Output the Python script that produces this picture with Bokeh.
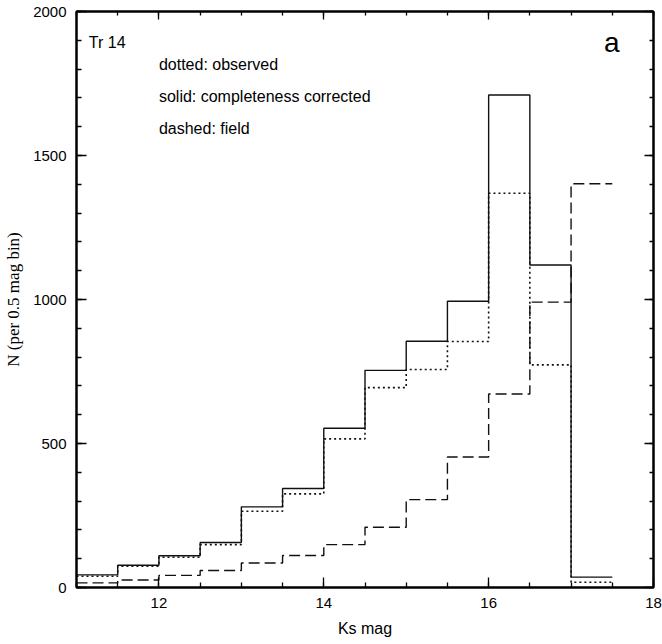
from bokeh.plotting import figure
from bokeh.models import FixedTicker, LinearAxis, Range1d, Label
from bokeh.embed import file_html
from bokeh.resources import INLINE

# Ks magnitude bins (left edges), 0.5 mag wide
bin_left = [11.0, 11.5, 12.0, 12.5, 13.0, 13.5, 14.0, 14.5, 15.0, 15.5, 16.0, 16.5, 17.0]
bin_width = 0.5

# star counts per bin
observed = [39, 74, 105, 149, 265, 325, 516, 694, 757, 854, 1369, 773, 18]
corrected = [44, 77, 110, 156, 280, 344, 553, 754, 855, 994, 1710, 1120, 36]
field = [16, 26, 42, 59, 85, 111, 149, 209, 305, 453, 672, 991, 1402]

x_major = [12, 14, 16, 18]
y_major = [0, 500, 1000, 1500, 2000]

FONT = "Liberation Sans"
SERIF = "Liberation Serif"

p = figure(width=662, height=644, output_backend="svg", toolbar_location=None,
           x_range=Range1d(11, 18), y_range=Range1d(0, 2000),
           min_border_left=76, min_border_right=9, min_border_top=11, min_border_bottom=57,
           x_axis_label="Ks mag", y_axis_label="N (per 0.5 mag bin)")
p.background_fill_color = "white"
p.border_fill_color = "white"
p.outline_line_color = "black"
p.outline_line_width = 2
p.xgrid.visible = False
p.ygrid.visible = False

x_ticker = FixedTicker(ticks=x_major, minor_ticks=[11 + 0.5 * i for i in range(15)])
y_ticker = FixedTicker(ticks=y_major, minor_ticks=list(range(0, 2001, 100)))


def style_axis(ax, ticker, show_labels):
    ax.ticker = ticker
    ax.axis_line_color = "black"
    ax.axis_line_width = 2
    ax.major_tick_in = 10
    ax.major_tick_out = 0
    ax.minor_tick_in = 5
    ax.minor_tick_out = 0
    ax.major_tick_line_color = "black"
    ax.minor_tick_line_color = "black"
    ax.major_tick_line_width = 1.3
    ax.minor_tick_line_width = 1.3
    if show_labels:
        ax.major_label_text_font = FONT
        ax.major_label_text_font_size = "15px"
        ax.major_label_text_color = "black"
    else:
        ax.major_label_text_font_size = "0px"
        ax.major_label_standoff = 0


style_axis(p.xaxis[0], x_ticker, True)
style_axis(p.yaxis[0], y_ticker, True)
p.xaxis[0].major_label_standoff = 10
p.yaxis[0].major_label_standoff = 10
p.xaxis[0].axis_label_text_font = FONT
p.xaxis[0].axis_label_text_font_size = "16px"
p.xaxis[0].axis_label_text_font_style = "normal"
p.xaxis[0].axis_label_text_color = "black"
p.xaxis[0].axis_label_standoff = 9
p.yaxis[0].axis_label_text_font = SERIF
p.yaxis[0].axis_label_text_font_size = "17px"
p.yaxis[0].axis_label_text_font_style = "normal"
p.yaxis[0].axis_label_text_color = "black"
p.yaxis[0].axis_label_standoff = 7

top_ax = LinearAxis()
style_axis(top_ax, x_ticker, False)
top_ax.major_tick_in = 8
top_ax.minor_tick_in = 4
p.add_layout(top_ax, "above")

right_ax = LinearAxis()
style_axis(right_ax, y_ticker, False)
right_ax.major_tick_in = 9
right_ax.minor_tick_in = 4
p.add_layout(right_ax, "right")

# histogram outlines: each bin value held across its 0.5 mag width
edges = bin_left + [bin_left[-1] + bin_width]


def outline(counts):
    return counts + [counts[-1]]


p.step(edges, outline(corrected), mode="after", line_color="#111111", line_width=1.4)
p.step(edges, outline(observed), mode="after", line_color="#111111", line_width=1.6,
       line_dash="2 3")
p.step(edges, outline(field), mode="after", line_color="#111111", line_width=1.4,
       line_dash="11 5")

notes = [
    ("Tr 14", 11.15, 1892),
    ("dotted: observed", 12.0, 1815),
    ("solid: completeness corrected", 12.0, 1705),
    ("dashed: field", 12.0, 1595),
]
for txt, xx, yy in notes:
    p.add_layout(Label(x=xx, y=yy, text=txt, text_font=FONT, text_font_size="16px",
                       text_baseline="middle", text_align="left", text_color="black"))

p.add_layout(Label(x=17.4, y=1892, text="a", text_font=FONT, text_font_size="28px",
                   text_baseline="middle", text_align="left", text_color="black"))

open("out.html", "w").write(file_html(p, INLINE))
